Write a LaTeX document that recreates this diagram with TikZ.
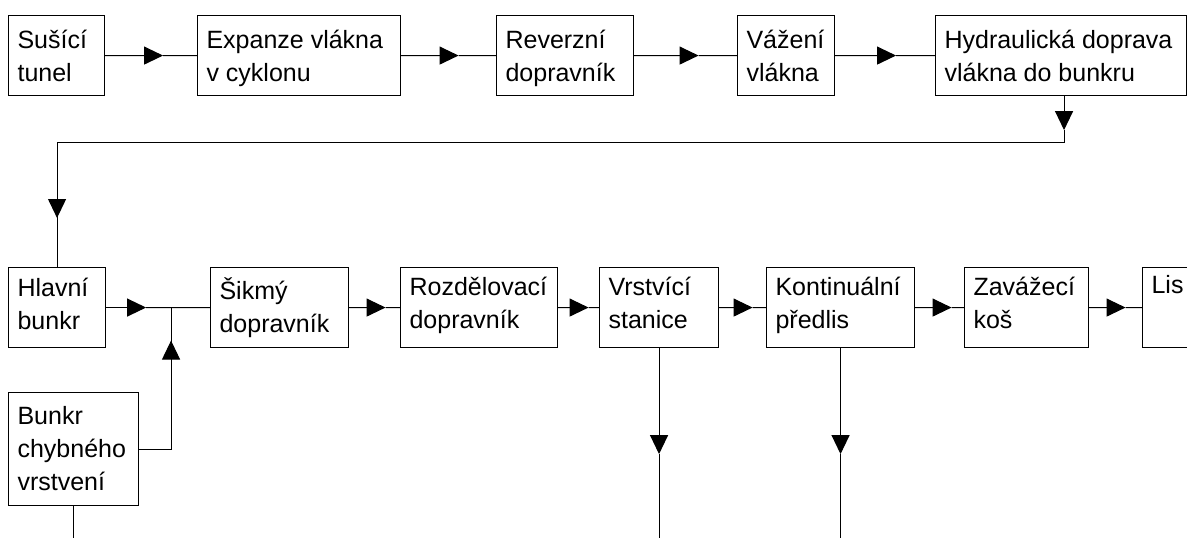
\documentclass[tikz,border=0pt]{standalone}
\usepackage{fontspec}
\setmainfont{Liberation Sans}
\usetikzlibrary{arrows.meta,calc}
\newcommand\hconn[3]{%
  \draw[arr] (#1.east) -- ($(#1.east)!.5!(#2.west)+(#3,0)$);
  \draw ($(#1.east)!.5!(#2.west)+(#3,0)$) -- (#2.west);}
\newcommand\tl[1]{\vtop{\baselineskip=33pt #1}}
\begin{document}
\begin{tikzpicture}[x=1pt,y=-1pt, line width=1.1pt,
  box/.style={draw, minimum height=80pt, anchor=north west, inner sep=0pt},
  txt/.style={anchor=base west, inner sep=0pt, font=\fontsize{25}{33}\selectfont},
  arr/.style={-{Triangle[length=19pt,width=18pt]}}]
\useasboundingbox (0,0) rectangle (1187,538);
\clip (0,0) rectangle (1187,538);

% row 1
\node[box, minimum width=96pt]  (sus) at (8,15) {};
\node[box, minimum width=203pt] (exp) at (197,15) {};
\node[box, minimum width=137pt] (rev) at (496,15) {};
\node[box, minimum width=97pt]  (vaz) at (737,15) {};
\node[box, minimum width=251pt] (hyd) at (935,15) {};
\node[txt] (sus-t) at ($(sus.north west)+(9,33)$) {\tl{\hbox{Sušící}\hbox{tunel}}};
\node[txt] (exp-t) at ($(exp.north west)+(9,33)$) {\tl{\hbox{Expanze vlákna}\hbox{v cyklonu}}};
\node[txt] (rev-t) at ($(rev.north west)+(9,33)$) {\tl{\hbox{Reverzní}\hbox{dopravník}}};
\node[txt] (vaz-t) at ($(vaz.north west)+(9,33)$) {\tl{\hbox{Vážení}\hbox{vlákna}}};
\node[txt] (hyd-t) at ($(hyd.north west)+(9,33)$) {\tl{\hbox{Hydraulická doprava}\hbox{vlákna do bunkru}}};

% row 2
\node[box, minimum width=97pt]  (hla) at (8,267) {};
\node[box, minimum width=138pt] (sik) at (210,267) {};
\node[box, minimum width=157pt] (roz) at (400,267) {};
\node[box, minimum width=119pt] (vrs) at (599,267) {};
\node[box, minimum width=148pt] (kon) at (766,267) {};
\node[box, minimum width=124pt] (zav) at (964,267) {};
\node[box, minimum width=70pt]  (lis) at (1142,267) {};
\node[box, minimum width=130pt, minimum height=113pt] (chy) at (8,392) {};
\node[txt] (hla-t) at ($(hla.north west)+(9,29)$) {\tl{\hbox{Hlavní}\hbox{bunkr}}};
\node[txt] (sik-t) at ($(sik.north west)+(9,32)$) {\tl{\hbox{Šikmý}\hbox{dopravník}}};
\node[txt] (roz-t) at ($(roz.north west)+(9,28)$) {\tl{\hbox{Rozdělovací}\hbox{dopravník}}};
\node[txt] (vrs-t) at ($(vrs.north west)+(9,28)$) {\tl{\hbox{Vrstvící}\hbox{stanice}}};
\node[txt] (kon-t) at ($(kon.north west)+(9,28)$) {\tl{\hbox{Kontinuální}\hbox{předlis}}};
\node[txt] (zav-t) at ($(zav.north west)+(9,28)$) {\tl{\hbox{Zavážecí}\hbox{koš}}};
\node[txt] (lis-t) at ($(lis.north west)+(9,26)$) {Lis};
\node[txt] (chy-t) at ($(chy.north west)+(9,32)$) {\tl{\hbox{Bunkr}\hbox{chybného}\hbox{vrstvení}}};

% row 1 connectors
\hconn{sus}{exp}{12}
\hconn{exp}{rev}{10}
\hconn{rev}{vaz}{13}
\hconn{vaz}{hyd}{11}

% return loop
\coordinate (h0) at ($(hyd.south)+(3,0)$);
\coordinate (h1) at ($(h0)+(0,34)$);
\coordinate (h2) at ($(h0)+(0,46)$);
\coordinate (h3) at (hla.north |- h2);
\coordinate (h4) at ($(hla.north)+(0,-49)$);
\draw[arr] (h0) -- (h1);
\draw (h1) -- (h2) -- (h3) -- (h4);
\draw[arr] (h3) -- (h4);
\draw (h4) -- (hla.north);

% junction
\coordinate (j) at ($(hla.east)!0.5!(sik.west)+(13,0)$);
\draw[arr] (hla.east) -- ($(hla.east)+(40,0)$);
\draw ($(hla.east)+(40,0)$) -- (j) -- (sik.west);
\coordinate (c1) at (chy.east -| j);
\coordinate (c2) at ($(j)+(0,33)$);
\draw (chy.east) -- (c1) -- (c2);
\draw[arr] (c1) -- (c2);
\draw (c2) -- (j);

% row 2 connectors
\hconn{sik}{roz}{11}
\hconn{roz}{vrs}{10}
\hconn{vrs}{kon}{10}
\hconn{kon}{zav}{12}
\hconn{zav}{lis}{10}

% outgoing lines
\coordinate (v1) at ($(vrs.south)+(0,106)$);
\coordinate (v2) at ($(vrs.south)+(0,200)$);
\draw[arr] (vrs.south) -- (v1);
\draw (v1) -- (v2);
\coordinate (k1) at ($(kon.south)+(0,106)$);
\coordinate (k2) at ($(kon.south)+(0,200)$);
\draw[arr] (kon.south) -- (k1);
\draw (k1) -- (k2);
\coordinate (b1) at ($(chy.south)+(0,60)$);
\draw (chy.south) -- (b1);
\end{tikzpicture}
\end{document}
